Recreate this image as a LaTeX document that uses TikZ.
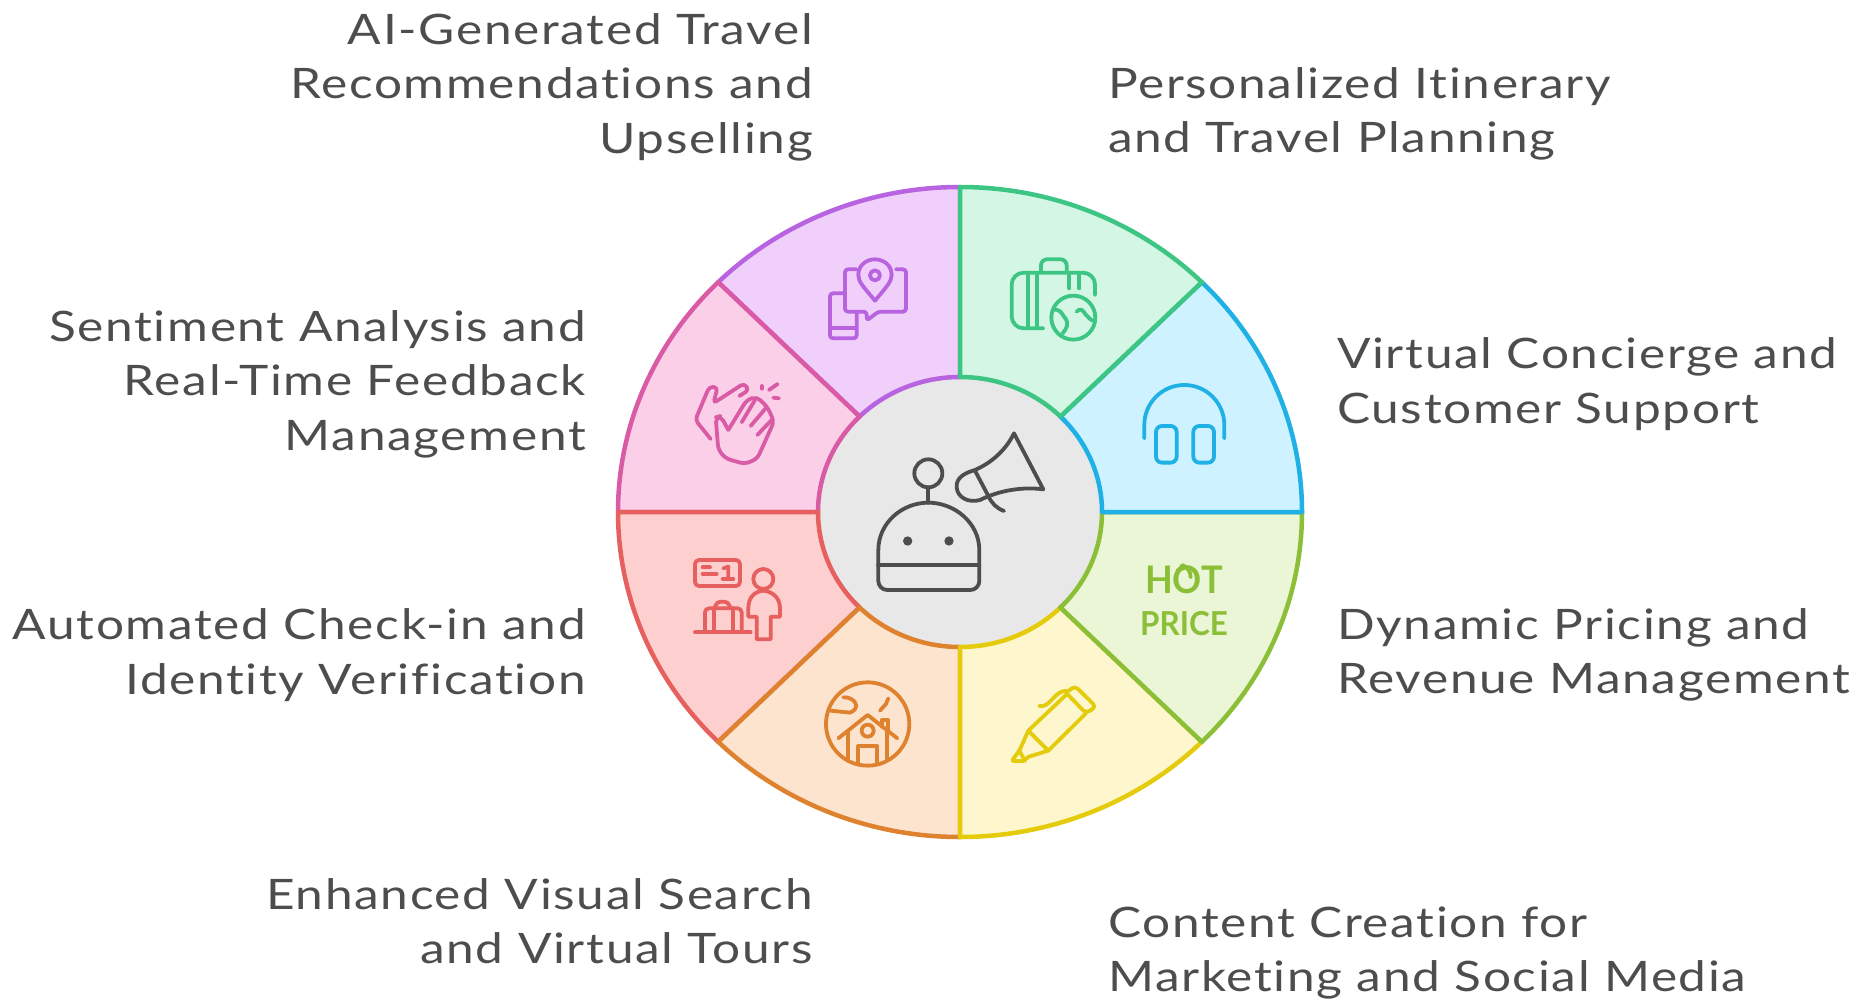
\documentclass[tikz,border=0pt]{standalone}
\usepackage{fontspec}
\setmainfont[FakeStretch=1.18,LetterSpace=4,Ligatures=NoCommon]{Lato}
\newfontfamily\iconfont[FakeStretch=0.95]{Lato}
\definecolor{purpleline}{HTML}{B863E0}
\definecolor{purplefill}{HTML}{F0CFFB}
\definecolor{pinkline}{HTML}{D95BA6}
\definecolor{pinkfill}{HTML}{FCCFE9}
\definecolor{redline}{HTML}{E5605E}
\definecolor{redfill}{HTML}{FECFCF}
\definecolor{orangeline}{HTML}{DE8230}
\definecolor{orangefill}{HTML}{FDE4CE}
\definecolor{yellowline}{HTML}{E4CB0C}
\definecolor{yellowfill}{HTML}{FEF7CE}
\definecolor{limeline}{HTML}{8BBF37}
\definecolor{limefill}{HTML}{EAF6D5}
\definecolor{blueline}{HTML}{1FB1E6}
\definecolor{bluefill}{HTML}{CEF2FF}
\definecolor{greenline}{HTML}{3CC583}
\definecolor{greenfill}{HTML}{D3F6E5}
\definecolor{hubfill}{HTML}{E8E8E8}
\definecolor{inkgrey}{HTML}{4D4D4D}
\begin{document}
\begin{tikzpicture}[
		x=1pt,y=-1pt,
		sector/.style={line width=4.5pt,line join=round},
		icon/.style n args={3}{shift={(#1,#2)},x=0.3333pt,y=-0.3333pt,color=#3,line width=3.8pt,line cap=round,line join=round},
		caption/.style={inner sep=0pt,text=inkgrey,font=\fontsize{42}{54.5}\selectfont},
		captionl/.style={caption,anchor=west,align=left},
		captionr/.style={caption,anchor=east,align=right}
		]
	\useasboundingbox (0,0) rectangle (1857,1002);
	\begin{scope}[shift={(960,512)}]
		\fill[hubfill] (0,0) ellipse[x radius=142,y radius=135];
		\foreach \a/\linec/\fillc in {225/purpleline/purplefill,180/pinkline/pinkfill,135/redline/redfill,90/orangeline/orangefill,45/yellowline/yellowfill,0/limeline/limefill,-45/blueline/bluefill,-90/greenline/greenfill}{
			\pgfmathsetmacro\b{\a+45}
			\draw[sector,draw=\linec,fill=\fillc] (\a:142 and 135) -- (\a:342 and 325) arc[start angle=\a,end angle=\b,x radius=342,y radius=325] -- (\b:142 and 135) arc[start angle=\b,end angle=\a,x radius=142,y radius=135] -- cycle;
		}
	\end{scope}

	\node[captionr] (recommend) at (813,87) {AI-Generated Travel\\Recommendations and\\Upselling};
	\node[captionl] (itinerary) at (1108,114) {Personalized Itinerary\\and Travel Planning};
	\node[captionl] (concierge) at (1337,384) {Virtual Concierge and\\Customer Support};
	\node[captionl] (pricing) at (1337,655) {Dynamic Pricing and\\Revenue Management};
	\node[captionl] (content) at (1108,953) {Content Creation for\\Marketing and Social Media};
	\node[captionr] (visual) at (813,921) {Enhanced Visual Search\\and Virtual Tours};
	\node[captionr] (checkin) at (586,655) {Automated Check-in and\\Identity Verification};
	\node[captionr] (sentiment) at (586,384) {Sentiment Analysis and\\Real-Time Feedback\\Management};

	% purple and pink
	\begin{scope}[icon={600}{170}{purpleline}]
		\draw[rounded corners=3pt] (730,370) -- (690,370) -- (690,505) -- (770,505) -- (770,430);
		\draw (690,475) -- (770,475);
		\draw[rounded corners=3pt] (770,298) -- (735,298) -- (735,425) -- (800,425) -- (800,452) -- (835,425) -- (918,425) -- (918,298) -- (888,298);
		\draw (825,392) .. controls (790,350) and (775,335) .. (775,315) .. controls (775,285) and (800,268) .. (825,268) .. controls (850,268) and (875,285) .. (875,315) .. controls (875,335) and (860,350) .. (825,392) -- cycle;
		\draw (825,316) circle[radius=15];
	\end{scope}
	\begin{scope}[icon={600}{170}{pinkline}]
		\draw[rounded corners=4pt] (332,807) -- (286,750) -- (328,650) -- (353,652) -- (340,700) -- (432,640) -- (447,660) -- (418,678);
		\draw[rounded corners=5pt] (385,780) -- (362,738) -- (347,742) -- (355,840) -- (378,866) -- (435,882) -- (472,866) -- (522,755) -- (503,712) -- (470,680) -- (440,690) -- (385,780);
		\draw (425,757) -- (465,690);
		\draw (452,768) -- (497,715);
		\draw (472,795) -- (515,750);
		\draw (485,648) -- (485,656);
		\draw (507,660) -- (533,642);
		\draw (520,683) -- (537,685);
	\end{scope}

	% green and blue
	\begin{scope}[icon={960}{170}{greenline}]
		\draw[rounded corners=12pt] (250,475) -- (155,475) -- (155,308) -- (405,308) -- (405,375);
		\draw (205,312) -- (205,472);
		\draw (230,312) -- (230,472);
		\draw[rounded corners=6pt] (243,305) -- (243,268) -- (320,268) -- (320,305);
		\draw (328,310) -- (328,355);
		\draw (358,310) -- (358,355);
		\draw (340,443) circle[radius=66];
		\draw (278,420) .. controls (300,415) and (305,430) .. (312,440) .. controls (330,460) and (320,475) .. (308,490);
		\draw (350,425) .. controls (365,410) and (370,425) .. (378,435) .. controls (390,445) and (390,450) .. (398,452);
	\end{scope}
	\begin{scope}[icon={960}{170}{blueline}]
		\draw (553,805) -- (553,765) arc[start angle=180,end angle=360,radius=120] -- (793,805);
		\draw[rounded corners=6pt] (588,768) rectangle (650,878);
		\draw[rounded corners=6pt] (700,768) rectangle (762,878);
	\end{scope}

	% lime and yellow
	\node[text=limeline,font=\iconfont\bfseries\fontsize{38}{38}\selectfont] (hot) at (1184,580) {HOT};
	\node[text=limeline,font=\iconfont\bfseries\fontsize{33}{33}\selectfont] (price) at (1184,624) {PRICE};
	\begin{scope}[icon={960}{500}{limeline}]
		\draw (652,212) .. controls (662,205) and (665,200) .. (668,195) .. controls (685,205) and (692,215) .. (692,232);
	\end{scope}
	\begin{scope}[icon={960}{500}{yellowline}]
		\draw[rounded corners=2pt] (205,692) -- (178,752) -- (155,783) -- (195,783) -- (200,772) -- (265,752);
		\draw (205,692) -- (265,752) -- (378,640);
		\draw (205,692) -- (318,585);
		\draw[rounded corners=4pt] (318,578) -- (345,558) -- (408,620) -- (378,640) -- (318,578);
		\draw (238,618) .. controls (270,625) and (280,575) .. (318,572);
		\draw (178,752) -- (195,783);
	\end{scope}

	% red and orange
	\begin{scope}[icon={600}{500}{redline}]
		\draw[rounded corners=4pt] (285,180) rectangle (420,258);
		\draw (308,202) -- (330,202);
		\draw (308,222) -- (350,222);
		\draw (370,205) -- (385,200) -- (385,237);
		\draw (368,237) -- (400,237);
		\draw (490,237) circle[radius=30];
		\draw (490,272) .. controls (460,275) and (445,295) .. (445,325) -- (445,350) -- (470,350) -- (470,418) -- (512,418) -- (512,350) -- (540,350) -- (540,325) .. controls (540,295) and (520,275) .. (490,272) -- cycle;
		\draw[rounded corners=4pt] (315,395) -- (315,325) -- (425,325) -- (425,395);
		\draw (342,325) -- (342,395);
		\draw (398,325) -- (398,395);
		\draw[rounded corners=4pt] (345,322) -- (350,305) -- (385,305) -- (390,322);
		\draw (285,397) -- (452,397);
	\end{scope}
	\begin{scope}[icon={600}{500}{orangeline}]
		\draw (803,672) circle[radius=125];
		\draw (692,632) -- (750,638) .. controls (785,625) and (765,590) .. (730,592);
		\draw (840,632) -- (858,612) -- (865,595);
		\draw (715,715) -- (803,645) -- (892,715);
		\draw (845,680) -- (845,660) -- (865,660) -- (865,700);
		\draw (745,695) -- (745,782);
		\draw (862,695) -- (862,775);
		\draw (775,790) -- (775,738) -- (832,738) -- (832,790);
		\draw (803,692) circle[radius=18];
	\end{scope}

	% robot and megaphone
	\begin{scope}[icon={860}{410}{inkgrey}]
		\draw (205,190) circle[radius=42];
		\draw (205,232) -- (205,278);
		\draw (55,465) -- (55,420) .. controls (55,340) and (125,278) .. (205,278) .. controls (285,278) and (358,340) .. (358,420) -- (358,465);
		\draw[rounded corners=9pt] (55,465) -- (55,540) -- (358,540) -- (358,465);
		\draw (55,465) -- (358,465);
		\fill (143,393) circle[radius=14];
		\fill (267,393) circle[radius=14];
		\draw (462,70) .. controls (435,125) and (390,160) .. (345,180) .. controls (310,190) and (288,205) .. (290,232) .. controls (292,262) and (325,280) .. (360,270) .. controls (420,240) and (490,230) .. (550,238) -- cycle;
		\draw (345,182) -- (385,258) .. controls (395,280) and (410,295) .. (432,303);
	\end{scope}
\end{tikzpicture}
\end{document}
